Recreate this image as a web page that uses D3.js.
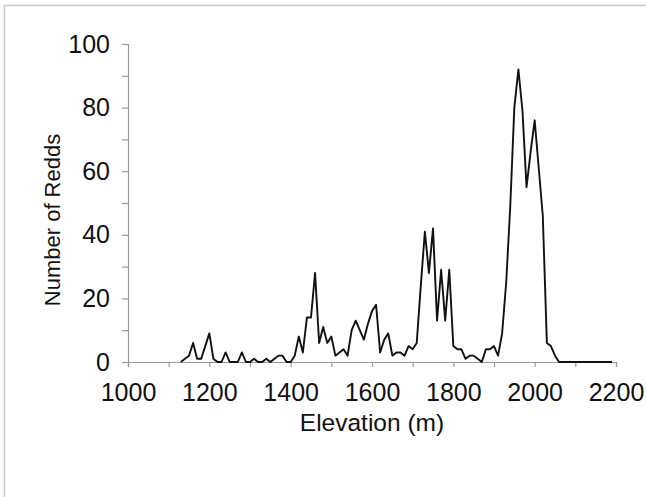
<!DOCTYPE html>
<html>
<head>
<meta charset="utf-8">
<script src="https://cdn.jsdelivr.net/npm/d3@7"></script>
<style>
    body { margin: 0; background: #fff; }
    text { font-family: "Liberation Sans", Arial, sans-serif; }
</style>
</head>
<body>
<div id="chart"></div>
<script>
// elevation (m), 10 m steps
var elevations = d3.range(1130, 2200, 10);
// number of redds at each elevation
var redds = [
    0, 1, 2, 6, 1, 1, 5, 9, 1, 0,
    0, 3, 0, 0, 0, 3, 0, 0, 1, 0,
    0, 1, 0, 1, 2, 2, 0, 0, 2, 8,
    3, 14, 14, 28, 6, 11, 6, 8, 2, 3,
    4, 2, 10, 13, 10, 7, 12, 16, 18, 3,
    7, 9, 2, 3, 3, 2, 5, 4, 6, 24,
    41, 28, 42, 13, 29, 13, 29, 5, 4, 4,
    1, 2, 2, 1, 0, 4, 4, 5, 2, 9,
    25, 49, 80, 92, 79, 55, 66, 76, 61, 46,
    6, 5, 2, 0, 0, 0, 0, 0, 0, 0,
    0, 0, 0, 0, 0, 0, 0
];
var xTicks = [1000, 1200, 1400, 1600, 1800, 2000, 2200];
var yTicks = [0, 20, 40, 60, 80, 100];

var width = 646, height = 497;

var svg = d3.select("#chart").append("svg")
    .attr("width", width)
    .attr("height", height);

// scanned page edge
svg.append("line")
    .attr("x1", 4.5).attr("x2", 4.5)
    .attr("y1", 5).attr("y2", height)
    .attr("stroke", "#c8c8c8").attr("stroke-width", 1.5);
svg.append("line")
    .attr("x1", 4).attr("x2", width)
    .attr("y1", 5.5).attr("y2", 5.5)
    .attr("stroke", "#c8c8c8").attr("stroke-width", 1.5);

var x = d3.scaleLinear().domain([1000, 2200]).range([128, 616]);
var y = d3.scaleLinear().domain([0, 100]).range([362, 44]);

var xAxis = svg.append("g")
    .attr("transform", "translate(0," + y(0) + ")")
    .call(d3.axisBottom(x).tickValues(d3.range(1000, 2201, 100)).tickSize(5).tickFormat(function (d) {
        return xTicks.indexOf(d) >= 0 ? d : "";
    }));

var yAxis = svg.append("g")
    .attr("transform", "translate(" + x(1000) + ",0)")
    .call(d3.axisLeft(y).tickValues(d3.range(0, 101, 10)).tickSize(6).tickFormat(function (d) {
        return yTicks.indexOf(d) >= 0 ? d : "";
    }));

[xAxis, yAxis].forEach(function (ax) {
    ax.select(".domain").attr("stroke", "#999").attr("stroke-width", 1.2);
    ax.selectAll(".tick line").attr("stroke", "#999").attr("stroke-width", 1.2);
    ax.selectAll(".tick text")
        .attr("fill", "#111")
        .style("font-size", "25px")
        .style("font-family", "'Liberation Sans', Arial, sans-serif");
});
xAxis.selectAll(".tick text").attr("y", 21).attr("dy", "0.71em");
yAxis.selectAll(".tick text").attr("x", -18);

var line = d3.line()
    .x(function (d, i) { return x(elevations[i]); })
    .y(function (d) { return y(d); });

svg.append("path")
    .datum(redds)
    .attr("d", line)
    .attr("fill", "none")
    .attr("stroke", "#111")
    .attr("stroke-width", 1.9)
    .attr("stroke-linejoin", "round");

svg.append("text")
    .attr("x", 372)
    .attr("y", 431)
    .attr("text-anchor", "middle")
    .attr("fill", "#111")
    .style("font-size", "24.5px")
    .text("Elevation (m)");

svg.append("text")
    .attr("transform", "translate(60,220) rotate(-90)")
    .attr("text-anchor", "middle")
    .attr("fill", "#111")
    .style("font-size", "22px")
    .text("Number of Redds");
</script>
</body>
</html>
